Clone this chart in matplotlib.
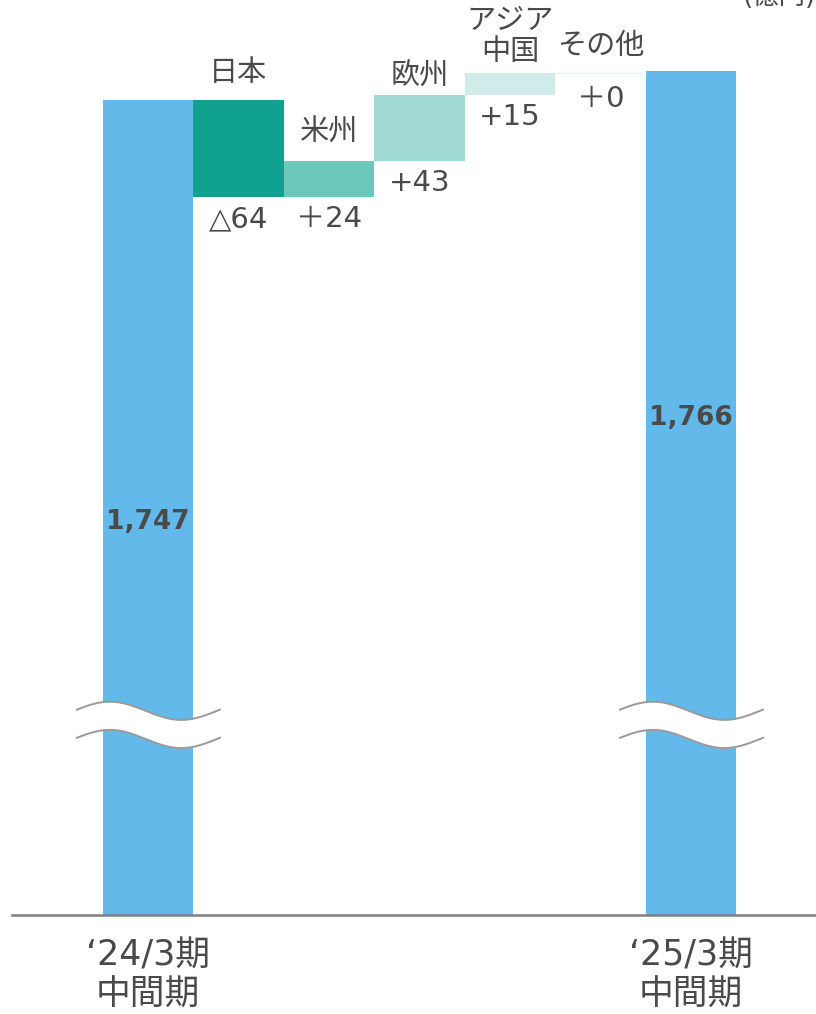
import numpy as np
import matplotlib
matplotlib.use('Agg')
import matplotlib.pyplot as plt
import matplotlib.transforms as mtransforms

plt.rcParams['font.family'] = ['DejaVu Sans', 'Noto Sans CJK JP']

# 売上高の増減（億円）
start_label = '‘24/3期\n中間期'
end_label = '‘25/3期\n中間期'
start_value = 1747
end_value = 1766
regions = ['日本', '米州', '欧州', 'アジア\n中国', 'その他']
changes = [-64, 24, 43, 15, 0]
change_labels = ['△64', '＋24', '+43', '+15', '＋0']

total_color = '#63BAEA'
region_colors = ['#10A190', '#6DC7BB', '#A0DAD3', '#CFECEA', '#E3F3F1']
text_color = '#4A4A4A'
# ラベルと棒の間隔（px）
name_gap = [27, 28, 19, 36, 27]
value_gap = [22, 22, 22, 22, 26]

fig = plt.figure(figsize=(8.16, 10.14), dpi=100)
ax = fig.add_axes([0, 99 / 1014, 1, 915 / 1014])

n = len(regions)
x_start = 0
x_regions = np.arange(1, n + 1)
x_end = n + 1

# 合計の棒（縦軸は途中省略）
ax.bar([x_start, x_end], [start_value, end_value], width=1.0,
       color=total_color, zorder=1)

# 地域別の増減
level = start_value
for i, (x, name, d, lab, c) in enumerate(zip(x_regions, regions, changes, change_labels, region_colors)):
    ax.bar(x, d, bottom=level, width=1.0, color=c, zorder=1,
           edgecolor=c if d == 0 else 'none', linewidth=0.8)
    top = max(level, level + d)
    bot = min(level, level + d)
    ax.annotate(name, (x, top), xytext=(0, name_gap[i]), textcoords='offset pixels',
                ha='center', va='center', fontsize=21, color=text_color,
                linespacing=1.12)
    ax.annotate(lab, (x, bot), xytext=(0, -value_gap[i]), textcoords='offset pixels',
                ha='center', va='center', fontsize=21, color=text_color)
    level += d

# 合計の値
trans = mtransforms.blended_transform_factory(ax.transData, ax.transAxes)
ax.text(x_start, 0.4295, f'{start_value:,}', transform=trans, ha='center', va='center',
        fontsize=19, fontweight='bold', color=text_color)
ax.text(x_end, 0.543, f'{end_value:,}', transform=trans, ha='center', va='center',
        fontsize=19, fontweight='bold', color=text_color)

# 省略の波線
break_y = 1334.5
gap = 9.3
amp = 6.0
t = np.linspace(0, 1, 200)
wave = amp * np.cos(2 * np.pi * (t - 0.23))
for xc in [x_start, x_end]:
    xs = xc - 0.785 + 1.58 * t
    upper = break_y + gap + wave
    lower = break_y - gap + wave
    ax.fill_between(xs, lower, upper, color='white', zorder=3, linewidth=0)
    ax.plot(xs, upper, color='#9A9A9A', lw=1.4, zorder=4)
    ax.plot(xs, lower, color='#9A9A9A', lw=1.4, zorder=4)

ax.set_xlim(-1.635, 7.381)
ax.set_ylim(1209, 1813)
ax.axhline(1209, xmin=12 / 816, xmax=1, color='#7F7F7F', lw=1.8, zorder=5, clip_on=False)

ax.set_xticks([x_start, x_end])
ax.set_xticklabels([start_label, end_label], fontsize=25, color=text_color, linespacing=1.2)
ax.tick_params(axis='x', length=0, pad=17)
ax.set_yticks([])
for s in ax.spines.values():
    s.set_visible(False)

fig.text(1.0, 1.0 + 3 / 1014, '(億円)', ha='right', va='center', fontsize=19, color=text_color)

fig.savefig('out.png', dpi=100)
